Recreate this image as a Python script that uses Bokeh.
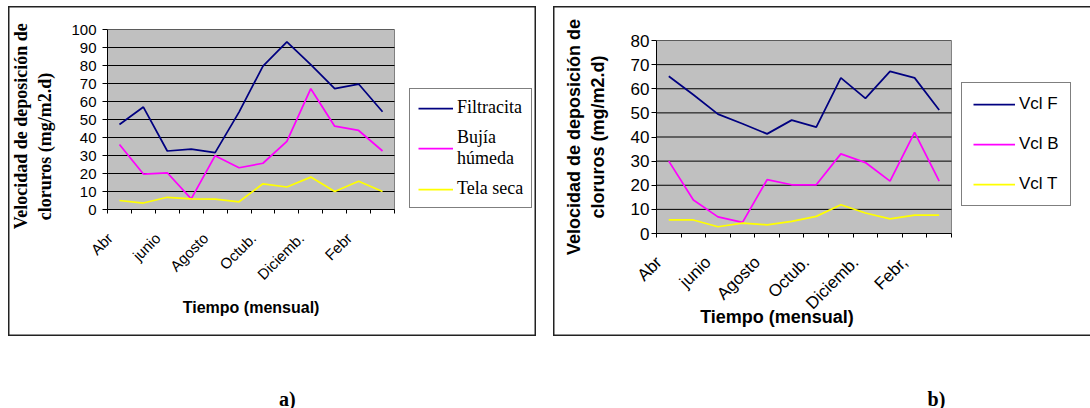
import math
from bokeh.plotting import figure
from bokeh.models import (FixedTicker, Legend, LegendItem, Range1d, Spacer,
                          CustomJSTickFormatter)
from bokeh.layouts import column, row
from bokeh.embed import file_html
from bokeh.resources import INLINE
from bokeh.core.properties import value

# ---------------- data ----------------
x_idx = list(range(12))  # monthly categories (April .. March)
tick_labels_a = ["Abr", "junio", "Agosto", "Octub.", "Diciemb.", "Febr"]
tick_labels_b = ["Abr", "junio", "Agosto", "Octub.", "Diciemb.", "Febr,"]

filtracita = [47.2, 56.9, 32.5, 33.6, 31.6, 54.1, 79.7, 93.1, 80.5, 67.1, 69.7, 54.3]
bujia = [36.1, 19.7, 20.4, 5.9, 29.9, 23.2, 25.7, 37.9, 67.1, 46.3, 43.9, 32.5]
tela = [5.0, 3.6, 6.8, 5.9, 5.7, 4.3, 14.3, 12.5, 18.0, 10.0, 15.7, 10.0]

vcl_f = [65.2, 57.5, 49.5, 45.5, 41.3, 47.0, 44.1, 64.5, 56.0, 67.2, 64.5, 51.2]
vcl_b = [30.0, 13.9, 6.9, 4.6, 22.3, 20.2, 20.2, 33.0, 29.4, 21.7, 41.9, 21.7]
vcl_t = [5.6, 5.6, 2.8, 4.3, 3.6, 5.0, 7.1, 11.9, 8.5, 6.1, 7.6, 7.6]

names_a = ["Filtracita", "Bujía\nhúmeda", "Tela seca"]
names_b = ["Vcl F", "Vcl B", "Vcl T"]
colors = ["#000080", "#FF00FF", "#FFFF00"]

y_title_lines = ["Velocidad de deposición de", "cloruros (mg/m2.d)"]
x_title = "Tiempo (mensual)"
captions = ["a)", "b)"]

SANS = "Liberation Sans"
SERIF = "Liberation Serif"
NB = "\u00a0"


def make_panel(width, ymax, x_end, series, names, labels, borders, shadow,
               y_title, title_font, title_size, xtitle_pad, xtitle_size,
               tick_size, y_standoff, x_standoff, lab_standoff, ylab_standoff,
               leg_loc, leg_font, leg_size, leg_opts):
    p = figure(width=width, height=330, x_range=Range1d(-0.5, x_end),
               y_range=Range1d(0, ymax), output_backend="svg",
               toolbar_location=None, min_border_left=borders[0],
               min_border_right=borders[1], min_border_top=borders[2],
               min_border_bottom=borders[3])
    p.styles = {"background-color": "white", "box-shadow": shadow}
    p.background_fill_color = "white"
    p.border_fill_alpha = 0
    p.outline_line_color = None
    p.xgrid.visible = False
    p.ygrid.visible = False

    yticks = list(range(0, ymax + 1, 10))
    # grey plot area and its horizontal grid lines, limited to the 12 months
    p.quad(left=[-0.5], right=[11.5], bottom=[0], top=[ymax],
           fill_color="#c0c0c0", line_color="#808080", line_width=1,
           level="image")
    p.segment(x0=[-0.5] * len(yticks), x1=[11.5] * len(yticks),
              y0=yticks, y1=yticks, line_color="black", line_width=1,
              level="underlay")

    yax = p.yaxis[0]
    yax.ticker = FixedTicker(ticks=yticks)
    yax.major_tick_out = 5
    yax.major_tick_in = 0
    yax.minor_tick_out = 0
    yax.minor_tick_in = 0
    yax.axis_line_color = "black"
    yax.major_label_text_font = SANS
    yax.major_label_text_font_size = tick_size
    yax.major_label_text_color = "black"
    yax.major_label_standoff = ylab_standoff
    yax.axis_label = y_title
    yax.axis_label_text_font = title_font
    yax.axis_label_text_font_style = "bold"
    yax.axis_label_text_font_size = title_size
    yax.axis_label_text_color = "black"
    yax.axis_label_standoff = y_standoff

    xax = p.xaxis[0]
    xax.bounds = (-0.5, 11.5)
    xax.ticker = FixedTicker(ticks=[2 * i - 0.4 for i in range(len(labels))],
                             minor_ticks=[i - 0.5 for i in range(13)])
    xax.formatter = CustomJSTickFormatter(
        args=dict(labels=labels),
        code="const i = Math.round((tick + 0.4) / 2);"
             "return (i >= 0 && i < labels.length) ? labels[i] : '';")
    xax.major_tick_out = 0
    xax.major_tick_in = 0
    xax.minor_tick_out = 4
    xax.minor_tick_in = 0
    xax.axis_line_color = "black"
    xax.major_label_orientation = math.pi / 4
    xax.major_label_text_font = SANS
    xax.major_label_text_font_size = tick_size
    xax.major_label_text_color = "black"
    xax.major_label_standoff = lab_standoff
    xax.axis_label = x_title + NB * xtitle_pad
    xax.axis_label_text_font = SANS
    xax.axis_label_text_font_style = "bold"
    xax.axis_label_text_font_size = xtitle_size
    xax.axis_label_text_color = "black"
    xax.axis_label_standoff = x_standoff

    items = []
    for ys, nm, c in zip(series, names, colors):
        r = p.line(x_idx, ys, line_color=c, line_width=1.75)
        items.append(LegendItem(label=nm, renderers=[r]))
    leg = Legend(items=items, location=leg_loc, margin=0,
                 border_line_color="black", border_line_width=1,
                 background_fill_color="white", background_fill_alpha=1,
                 label_text_font=leg_font, label_text_font_size=leg_size,
                 label_text_color="black", **leg_opts)
    p.add_layout(leg)
    return p


def make_caption(width, borders, frame_px, xpos, text):
    c = figure(width=width, height=72, x_range=Range1d(*frame_px),
               y_range=Range1d(0, 72), output_backend="svg",
               toolbar_location=None, x_axis_type=None, y_axis_type=None,
               min_border_left=borders[0], min_border_right=borders[1],
               min_border_top=0, min_border_bottom=0)
    c.outline_line_color = None
    c.xgrid.visible = False
    c.ygrid.visible = False
    c.text(x=[xpos], y=[10], text=[text], text_font=value(SERIF),
           text_font_style="bold", text_font_size="20px", text_align="center",
           text_baseline="alphabetic", text_color="black")
    return c


# panel a: y title lines padded a little so the text sits lower, as in the original
y_title_a = (y_title_lines[0] + NB * 3) + "\n" + (y_title_lines[1] + NB * 12)
y_title_b = y_title_lines[0] + "\n" + y_title_lines[1]

pa = make_panel(528, 100, 17.27, [filtracita, bujia, tela], names_a,
                tick_labels_a, (96, 4, 23, 127), "inset 0 0 0 1.5px #222",
                y_title_a, SERIF, "18px", 31, "16px", "15px", 13, 7, 22, 6,
                (302, 1), SERIF, "18px",
                dict(glyph_width=35, glyph_height=18, label_standoff=4,
                     padding=8, spacing=9, label_height=18))

pb = make_panel(537, 80, 16.83, [vcl_f, vcl_b, vcl_t], names_b,
                tick_labels_b, (103, 8, 34, 103),
                "inset 1.5px 0 0 0 #222, inset 0 1.5px 0 0 #222, inset 0 -1.5px 0 0 #222",
                y_title_b, SANS, "18px", 37, "18px", "17px", 20, -16, 22, 2,
                (305, 27), SANS, "17px",
                dict(glyph_width=42, glyph_height=18, label_standoff=4,
                     padding=11, spacing=20, label_height=18))

cap_a = make_caption(528, (96, 4), (104, 532), 285, captions[0])
cap_b = make_caption(537, (103, 8), (656, 1082), 936, captions[1])

layout = row(Spacer(width=8, height=408),
             column(Spacer(width=528, height=6), pa, cap_a),
             Spacer(width=17, height=408),
             column(Spacer(width=537, height=6), pb, cap_b))
open("out.html", "w").write(file_html(layout, INLINE))
